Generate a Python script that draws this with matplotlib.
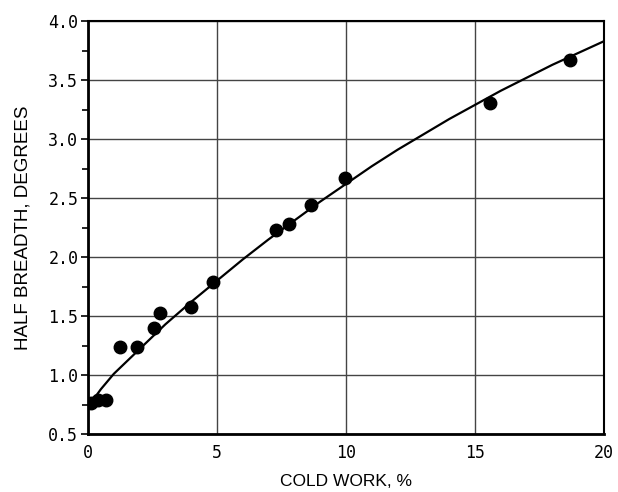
import numpy as np
import matplotlib.pyplot as plt

# measured points
cold_work = [0.1, 0.4, 0.7, 1.25, 1.9, 2.55, 2.8, 4.0, 4.85, 7.3, 7.8, 8.65, 9.95, 15.6, 18.7]
half_breadth = [0.76, 0.79, 0.79, 1.24, 1.24, 1.40, 1.53, 1.58, 1.79, 2.23, 2.28, 2.44, 2.67, 3.31, 3.67]

# fitted curve
curve_x = [0.1, 0.5, 1, 2, 3, 4, 5, 6, 7, 8, 9, 10, 11, 12, 13, 14, 15, 16, 17, 18, 19, 20]
curve_y = [0.76, 0.88, 1.01, 1.22, 1.43, 1.62, 1.80, 1.98, 2.15, 2.31, 2.47, 2.62,
           2.77, 2.91, 3.04, 3.17, 3.29, 3.41, 3.52, 3.63, 3.73, 3.83]

fig = plt.figure(figsize=(6.18, 4.92), dpi=100)
ax = fig.add_axes([0.1424, 0.1179, 0.8349, 0.8391])

ax.plot(curve_x, curve_y, color="black", lw=1.6, zorder=3)
ax.plot(cold_work, half_breadth, "o", color="black", ms=9, zorder=4)

ax.set_xlim(0, 20)
ax.set_ylim(0.5, 4.0)
ax.set_xticks([0, 5, 10, 15, 20])
ax.set_yticks(np.arange(0.5, 4.01, 0.5))
ax.set_yticks(np.arange(0.75, 4.0, 0.5), minor=True)
ax.set_yticklabels(["%.1f" % v for v in np.arange(0.5, 4.01, 0.5)])

ax.grid(True, which="major", color="#444444", lw=1.0)
ax.set_axisbelow(True)

ax.tick_params(axis="y", which="major", direction="out", length=5, width=1.2, pad=2)
ax.tick_params(axis="y", which="minor", direction="out", length=4, width=1.2)
ax.tick_params(axis="x", which="major", length=0, pad=7)
for lab in ax.get_xticklabels() + ax.get_yticklabels():
    lab.set_family("DejaVu Sans Mono")
    lab.set_fontsize(12)

for s in ["left", "bottom"]:
    ax.spines[s].set_linewidth(2.0)
for s in ["top", "right"]:
    ax.spines[s].set_linewidth(1.5)

ax.set_xlabel("COLD WORK, %", family="Liberation Sans", fontsize=12.5, labelpad=9)
ax.set_ylabel("HALF BREADTH, DEGREES", family="Liberation Sans", fontsize=13.5, labelpad=12)

fig.savefig("out.png", dpi=100)
